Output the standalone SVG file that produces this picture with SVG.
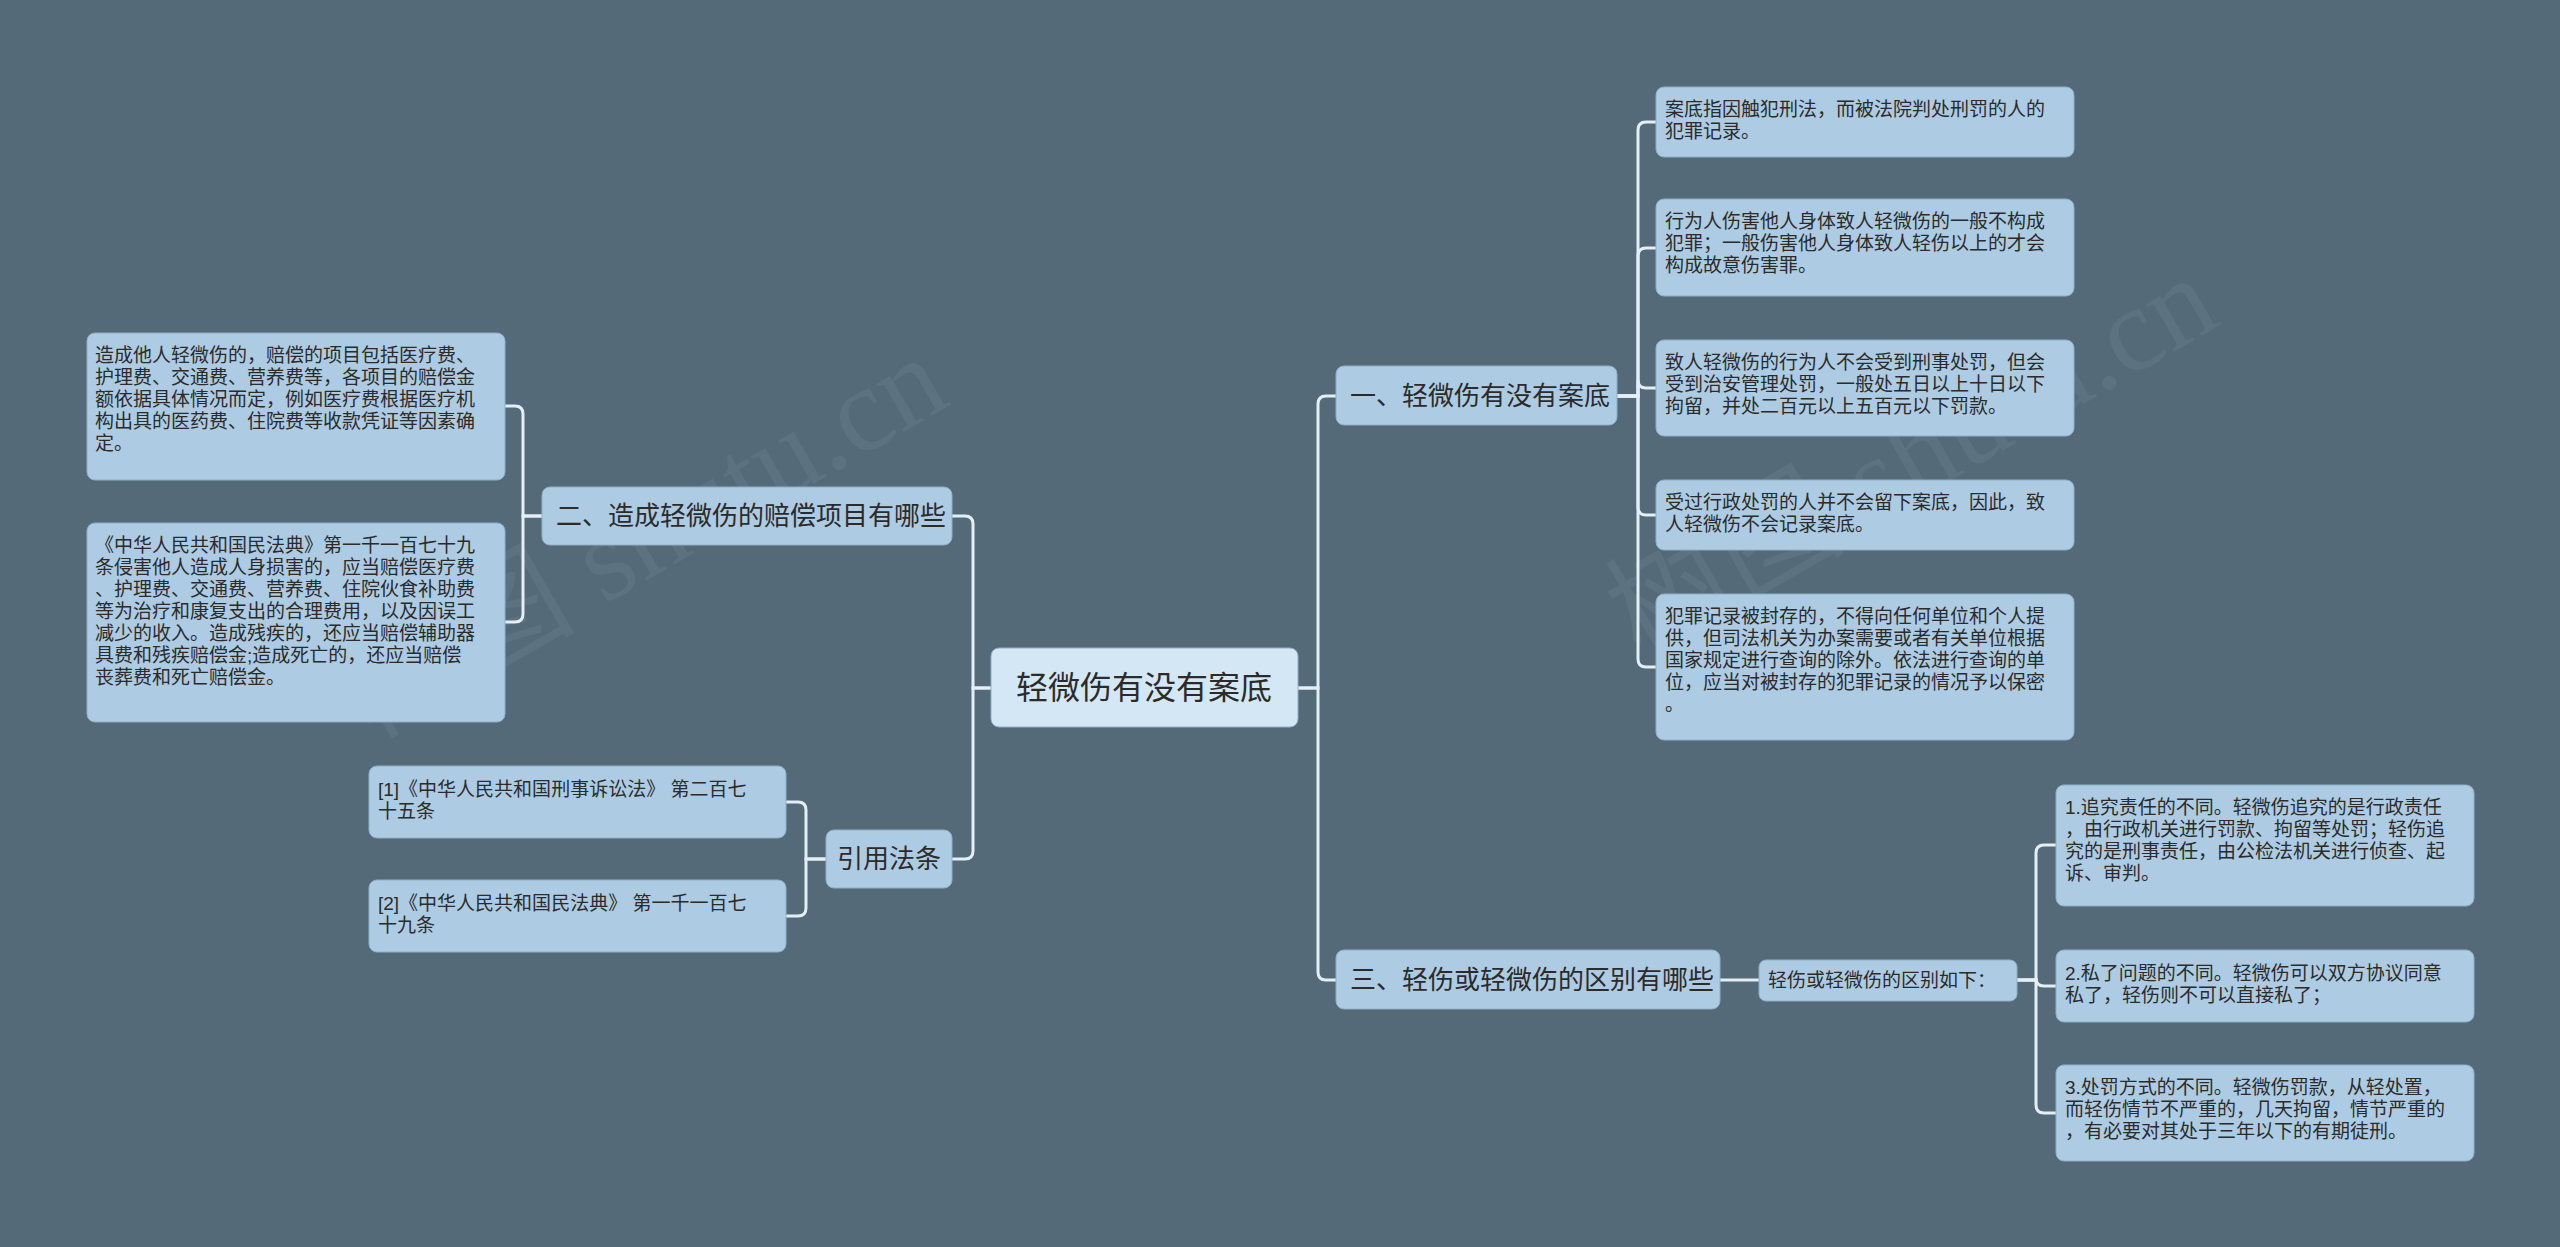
<svg xmlns="http://www.w3.org/2000/svg" width="2560" height="1247" viewBox="0 0 2560 1247">
<style>
.n{fill:#adcbe2;stroke:#8fb0c8;stroke-width:1}
.c{fill:#d4e7f4}
text{font-family:"Liberation Sans","Noto Sans CJK SC",sans-serif;fill:#2b2b2b}
.l{font-size:19px}
.b{font-size:26px}
.m{font-size:32px}
.e path{fill:none;stroke:#e4eef6;stroke-width:3}
.w{font-family:"Liberation Serif","Noto Sans CJK SC",serif;font-size:120px;fill:#6d8191;opacity:0.35}
</style>
<rect width="2560" height="1247" fill="#546a79"/>
<text class="w" transform="translate(370,740) rotate(-30)">树图 shutu.cn</text>
<text class="w" transform="translate(1640,660) rotate(-30)">树图 shutu.cn</text>
<g class="e">
<path d="M1298 688H1318V404Q1318 396 1326 396H1336"/>
<path d="M1298 688H1318V972Q1318 980 1326 980H1336"/>
<path d="M991 688H973V524Q973 516 965 516H952"/>
<path d="M991 688H973V851Q973 859 965 859H952"/>
<path d="M1617 396H1638V130Q1638 122 1646 122H1656"/>
<path d="M1617 396H1638V256Q1638 248 1646 248H1656"/>
<path d="M1617 396H1638V380Q1638 388 1646 388H1656"/>
<path d="M1617 396H1638V507Q1638 515 1646 515H1656"/>
<path d="M1617 396H1638V659Q1638 667 1646 667H1656"/>
<path d="M542 516H523V414Q523 406 515 406H505"/>
<path d="M542 516H523V614Q523 622 515 622H505"/>
<path d="M826 859H806V810Q806 802 798 802H786"/>
<path d="M826 859H806V908Q806 916 798 916H786"/>
<path d="M1720 980H1759"/>
<path d="M2017 980H2036V853Q2036 845 2044 845H2056"/>
<path d="M2017 980H2036V978Q2036 986 2044 986H2056"/>
<path d="M2017 980H2036V1105Q2036 1113 2044 1113H2056"/>
</g>
<g id="center"><rect class="n c" x="991" y="648" width="307" height="79" rx="8"/><text class="m" x="1144" y="699" text-anchor="middle">轻微伤有没有案底</text></g>
<g id="b1"><rect class="n" x="1336" y="366" width="281" height="59" rx="8"/><text class="b" x="1350" y="405">一、轻微伤有没有案底</text></g>
<g id="b1a"><rect class="n" x="1656" y="87" width="418" height="70" rx="8"/><text class="l" x="1665" y="116"><tspan>案底指因触犯刑法，而被法院判处刑罚的人的</tspan><tspan x="1665" dy="22">犯罪记录。</tspan></text></g>
<g id="b1b"><rect class="n" x="1656" y="199" width="418" height="97" rx="8"/><text class="l" x="1665" y="228"><tspan>行为人伤害他人身体致人轻微伤的一般不构成</tspan><tspan x="1665" dy="22">犯罪；一般伤害他人身体致人轻伤以上的才会</tspan><tspan x="1665" dy="22">构成故意伤害罪。</tspan></text></g>
<g id="b1c"><rect class="n" x="1656" y="340" width="418" height="96" rx="8"/><text class="l" x="1665" y="369"><tspan>致人轻微伤的行为人不会受到刑事处罚，但会</tspan><tspan x="1665" dy="22">受到治安管理处罚，一般处五日以上十日以下</tspan><tspan x="1665" dy="22">拘留，并处二百元以上五百元以下罚款。</tspan></text></g>
<g id="b1d"><rect class="n" x="1656" y="480" width="418" height="70" rx="8"/><text class="l" x="1665" y="509"><tspan>受过行政处罚的人并不会留下案底，因此，致</tspan><tspan x="1665" dy="22">人轻微伤不会记录案底。</tspan></text></g>
<g id="b1e"><rect class="n" x="1656" y="594" width="418" height="146" rx="8"/><text class="l" x="1665" y="623"><tspan>犯罪记录被封存的，不得向任何单位和个人提</tspan><tspan x="1665" dy="22">供，但司法机关为办案需要或者有关单位根据</tspan><tspan x="1665" dy="22">国家规定进行查询的除外。依法进行查询的单</tspan><tspan x="1665" dy="22">位，应当对被封存的犯罪记录的情况予以保密</tspan><tspan x="1665" dy="22">。</tspan></text></g>
<g id="b3"><rect class="n" x="1336" y="950" width="384" height="59" rx="8"/><text class="b" x="1350" y="989">三、轻伤或轻微伤的区别有哪些</text></g>
<g id="b3a"><rect class="n" x="1759" y="960" width="258" height="41" rx="7"/><text class="l" x="1768" y="987">轻伤或轻微伤的区别如下：</text></g>
<g id="b3a1"><rect class="n" x="2056" y="785" width="418" height="121" rx="8"/><text class="l" x="2065" y="814"><tspan>1.追究责任的不同。轻微伤追究的是行政责任</tspan><tspan x="2065" dy="22">，由行政机关进行罚款、拘留等处罚；轻伤追</tspan><tspan x="2065" dy="22">究的是刑事责任，由公检法机关进行侦查、起</tspan><tspan x="2065" dy="22">诉、审判。</tspan></text></g>
<g id="b3a2"><rect class="n" x="2056" y="950" width="418" height="72" rx="8"/><text class="l" x="2065" y="980"><tspan>2.私了问题的不同。轻微伤可以双方协议同意</tspan><tspan x="2065" dy="22">私了，轻伤则不可以直接私了；</tspan></text></g>
<g id="b3a3"><rect class="n" x="2056" y="1065" width="418" height="96" rx="8"/><text class="l" x="2065" y="1094"><tspan>3.处罚方式的不同。轻微伤罚款，从轻处置，</tspan><tspan x="2065" dy="22">而轻伤情节不严重的，几天拘留，情节严重的</tspan><tspan x="2065" dy="22">，有必要对其处于三年以下的有期徒刑。</tspan></text></g>
<g id="b2"><rect class="n" x="542" y="487" width="410" height="58" rx="8"/><text class="b" x="556" y="525">二、造成轻微伤的赔偿项目有哪些</text></g>
<g id="b2a"><rect class="n" x="87" y="333" width="418" height="147" rx="8"/><text class="l" x="95" y="362"><tspan>造成他人轻微伤的，赔偿的项目包括医疗费、</tspan><tspan x="95" dy="22">护理费、交通费、营养费等，各项目的赔偿金</tspan><tspan x="95" dy="22">额依据具体情况而定，例如医疗费根据医疗机</tspan><tspan x="95" dy="22">构出具的医药费、住院费等收款凭证等因素确</tspan><tspan x="95" dy="22">定。</tspan></text></g>
<g id="b2b"><rect class="n" x="87" y="523" width="418" height="199" rx="8"/><text class="l" x="95" y="552"><tspan>《中华人民共和国民法典》第一千一百七十九</tspan><tspan x="95" dy="22">条侵害他人造成人身损害的，应当赔偿医疗费</tspan><tspan x="95" dy="22">、护理费、交通费、营养费、住院伙食补助费</tspan><tspan x="95" dy="22">等为治疗和康复支出的合理费用，以及因误工</tspan><tspan x="95" dy="22">减少的收入。造成残疾的，还应当赔偿辅助器</tspan><tspan x="95" dy="22">具费和残疾赔偿金;造成死亡的，还应当赔偿</tspan><tspan x="95" dy="22">丧葬费和死亡赔偿金。</tspan></text></g>
<g id="ref"><rect class="n" x="826" y="830" width="126" height="58" rx="8"/><text class="b" x="889" y="868" text-anchor="middle">引用法条</text></g>
<g id="ref1"><rect class="n" x="369" y="766" width="417" height="72" rx="8"/><text class="l" x="378" y="796"><tspan>[1]《中华人民共和国刑事诉讼法》 第二百七</tspan><tspan x="378" dy="22">十五条</tspan></text></g>
<g id="ref2"><rect class="n" x="369" y="880" width="417" height="72" rx="8"/><text class="l" x="378" y="910"><tspan>[2]《中华人民共和国民法典》 第一千一百七</tspan><tspan x="378" dy="22">十九条</tspan></text></g>
</svg>
